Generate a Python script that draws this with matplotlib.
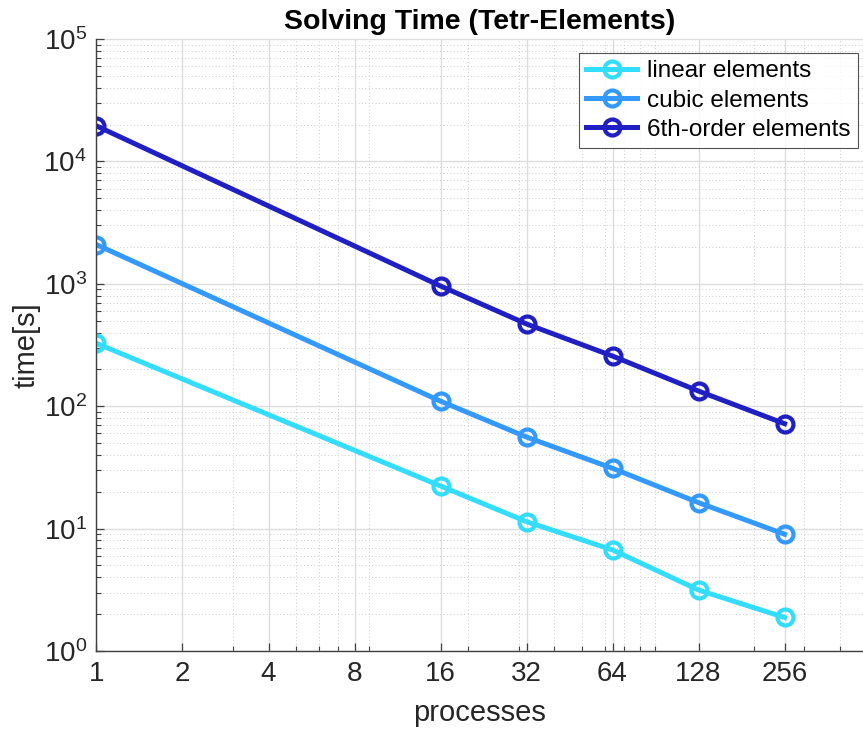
import numpy as np
import matplotlib.pyplot as plt
from matplotlib.ticker import FixedLocator, LogLocator, NullFormatter, LogFormatterMathtext

plt.rcParams['font.family'] = ['Liberation Sans', 'DejaVu Sans']
plt.rcParams['mathtext.fontset'] = 'custom'
plt.rcParams['mathtext.rm'] = 'Liberation Sans'

# number of processes and solve times (s)
procs = [1, 16, 32, 64, 128, 256]
t_linear = [326, 22.3, 11.4, 6.7, 3.15, 1.88]
t_cubic = [2090, 110, 56, 31.1, 16.3, 9.0]
t_6th = [19500, 960, 470, 257, 133, 72]
labels = ['linear elements', 'cubic elements', '6th-order elements']
colors = ['#33DDFF', '#3399FF', '#1F1FC4']
xticks = [1, 2, 4, 8, 16, 32, 64, 128, 256]

fig = plt.figure(figsize=(8.63, 7.31), dpi=100)
ax = fig.add_axes([0.1118, 0.1094, 0.888, 0.8372])

for y, lab, c in zip([t_linear, t_cubic, t_6th], labels, colors):
    ax.plot(procs, y, '-o', color=c, lw=3.6, ms=11.5, mew=3,
            mfc='none', label=lab)

ax.set_xscale('log')
ax.set_yscale('log')
ax.set_xlim(1, 481)
ax.set_ylim(1, 1e5)

ax.xaxis.set_major_locator(FixedLocator(xticks))
ax.set_xticklabels([str(v) for v in xticks])
ax.xaxis.set_minor_locator(LogLocator(base=10, subs=np.arange(2, 10)))
ax.xaxis.set_minor_formatter(NullFormatter())
ax.yaxis.set_major_locator(LogLocator(base=10, numticks=10))
ax.yaxis.set_major_formatter(LogFormatterMathtext())
ax.yaxis.set_minor_locator(LogLocator(base=10, subs=np.arange(2, 10), numticks=20))
ax.yaxis.set_minor_formatter(NullFormatter())

ax.grid(True, which='major', color='#DDDDDD', lw=1.0, ls='-')
ax.grid(True, which='minor', color='#CCCCCC', lw=0.7, ls=(0, (1, 2.5)))
ax.set_axisbelow(True)

ax.tick_params(which='major', direction='in', length=6, width=0.9,
               colors='#404040', labelcolor='#262626', labelsize=20, pad=7)
ax.tick_params(which='minor', direction='in', length=3.5, width=0.8,
               colors='#404040')
for s in ['top', 'right']:
    ax.spines[s].set_visible(False)
for s in ['left', 'bottom']:
    ax.spines[s].set_color('#404040')
    ax.spines[s].set_linewidth(1.0)

ax.set_xlabel('processes', fontsize=21, color='#262626', labelpad=9)
ax.set_ylabel('time[s]', fontsize=21, color='#262626', labelpad=2)
ax.set_title('Solving Time (Tetr-Elements)', fontsize=20.5, fontweight='bold',
             pad=7)

leg = ax.legend(loc='upper right', bbox_to_anchor=(0.9942, 0.9275),
                bbox_transform=fig.transFigure, fontsize=17.5, frameon=True,
                fancybox=False, edgecolor='#262626', handlelength=2.1,
                handletextpad=0.4, borderpad=0.3, labelspacing=0.3,
                borderaxespad=0)
leg.get_frame().set_linewidth(0.8)

fig.savefig('out.png', dpi=100)
